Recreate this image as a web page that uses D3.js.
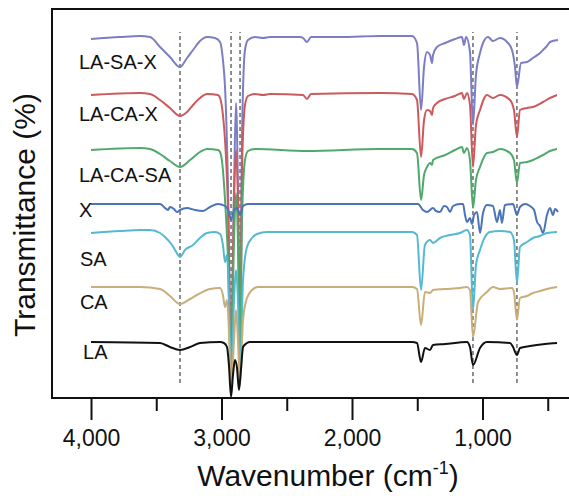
<!DOCTYPE html>
<html>
<head>
<meta charset="utf-8">
<script src="https://cdn.jsdelivr.net/npm/d3@7"></script>
<style>
  body { margin: 0; background: #fff; }
  svg { display: block; font-family: "Liberation Sans", Arial, Helvetica, sans-serif; }
</style>
</head>
<body>
<div id="chart"></div>
<script>
// spectra, [wavenumber, relative transmittance] (0 = own baseline)
const laSaX = [[4000,-2],[3778,0],[3625,1],[3548,0],[3471,-10],[3395,-20],[3318,-30],[3264,-21],[3218,-13],[3165,-4],[3111,0],[3050,-1],[3011,-5],[2989,-23],[2973,-50],[2950,-150],[2927,-323],[2904,-150],[2889,-66],[2874,-150],[2858,-313],[2843,-100],[2820,-13],[2797,-3],[2743,0],[2682,-1],[2628,0],[2398,0],[2375,-1],[2345,-5],[2314,0],[2092,0],[1785,1],[1540,1],[1502,-6],[1471,-73],[1448,-30],[1425,-15],[1402,-18],[1387,-26],[1379,-18],[1349,-10],[1287,-6],[1211,-2],[1157,0],[1142,-8],[1126,0],[1096,-15],[1073,-88],[1050,-38],[1019,-16],[996,-6],[958,0],[920,-4],[866,-1],[812,-5],[774,-13],[751,-30],[736,-50],[705,-26],[659,-25],[613,-21],[559,-16],[536,-13],[506,-9],[483,-5],[421,-3]]
const laCaX = [[4000,-1],[3625,1],[3548,0],[3471,-6],[3395,-14],[3318,-22],[3264,-18],[3218,-11],[3165,-4],[3111,0],[3027,-1],[3011,-4],[2989,-21],[2973,-46],[2950,-116],[2927,-266],[2904,-106],[2889,-56],[2874,-106],[2858,-256],[2843,-76],[2820,-11],[2797,-2],[2743,0],[2682,-1],[2628,0],[2375,-1],[2345,-5],[2314,0],[1785,1],[1540,0],[1502,-6],[1471,-63],[1448,-26],[1425,-16],[1402,-17],[1387,-21],[1379,-14],[1349,-9],[1287,-5],[1211,-2],[1157,1],[1142,-5],[1119,1],[1096,-11],[1073,-73],[1050,-31],[1019,-16],[966,-1],[920,-4],[866,-1],[789,-6],[759,-16],[736,-43],[713,-16],[659,-14],[613,-13],[536,-8],[483,-4],[429,-1]]
const laCaSa = [[4000,-1],[3625,1],[3548,0],[3471,-5],[3395,-12],[3318,-18],[3241,-11],[3165,-3],[3111,0],[3027,-1],[3011,-3],[2989,-21],[2973,-51],[2950,-111],[2927,-221],[2904,-91],[2889,-44],[2874,-91],[2858,-216],[2843,-71],[2820,-11],[2797,-2],[2743,0],[2345,-2],[1785,0],[1540,0],[1502,-4],[1471,-51],[1448,-26],[1425,-18],[1402,-14],[1387,-16],[1379,-11],[1287,-6],[1211,-1],[1157,2],[1142,-4],[1119,1],[1096,-11],[1073,-59],[1050,-31],[1019,-18],[966,-4],[920,-3],[866,0],[789,-4],[759,-11],[736,-34],[713,-14],[659,-13],[613,-11],[536,-6],[483,-2],[429,0]]
const xSpec = [[4000,0],[3471,0],[3456,-1],[3433,-4],[3410,-6],[3395,-3],[3364,-5],[3341,-8],[3318,-6],[3264,-4],[3203,-6],[3142,-7],[3088,-3],[3027,0],[2973,-2],[2943,-8],[2927,-16],[2904,-6],[2881,-4],[2858,-11],[2835,-2],[2797,0],[1517,0],[1494,0],[1456,-6],[1425,-8],[1379,-4],[1356,-7],[1326,-8],[1295,-2],[1272,-3],[1249,-8],[1226,-2],[1172,0],[1149,0],[1134,-11],[1119,-18],[1096,-14],[1080,-20],[1065,-11],[1042,-8],[1019,-29],[996,-9],[966,-1],[920,-2],[889,-18],[866,-6],[851,-19],[828,-1],[766,0],[736,-11],[713,-3],[674,0],[636,-2],[605,-6],[582,-18],[559,-22],[536,-29],[506,-11],[483,-4],[460,-11],[444,-5],[421,-8]]
const sa = [[4000,-1],[3778,1],[3625,2],[3548,2],[3471,-1],[3433,-5],[3379,-13],[3333,-23],[3318,-25],[3280,-18],[3218,-13],[3165,-6],[3111,-1],[3050,0],[3011,-2],[2989,-13],[2973,-30],[2958,-23],[2943,-68],[2927,-153],[2904,-68],[2889,-38],[2874,-68],[2858,-148],[2835,-48],[2805,-15],[2766,-6],[2728,-2],[2651,0],[1540,0],[1502,-3],[1471,-58],[1441,-13],[1402,-8],[1379,-11],[1326,-6],[1249,-3],[1172,-1],[1119,2],[1096,-3],[1073,-78],[1050,-33],[1019,-18],[981,-5],[943,0],[866,1],[789,0],[759,-8],[736,-51],[713,-15],[659,-10],[613,-6],[559,-4],[506,-1],[429,0]]
const ca = [[4000,0],[3625,0],[3471,-2],[3395,-9],[3318,-17],[3241,-12],[3188,-8],[3088,-2],[3011,-1],[2989,-8],[2973,-20],[2958,-13],[2943,-43],[2927,-103],[2904,-53],[2889,-23],[2874,-53],[2858,-98],[2835,-33],[2805,-11],[2766,-3],[2720,0],[1540,0],[1502,-2],[1471,-38],[1441,-5],[1402,-6],[1379,-3],[1287,-2],[1172,-1],[1119,0],[1096,-3],[1073,-50],[1034,-15],[966,-5],[920,0],[866,-2],[774,-1],[759,-5],[736,-33],[713,-11],[659,-9],[613,-6],[559,-4],[506,-2],[429,0]]
const la = [[4000,0],[3471,-1],[3395,-5],[3318,-8],[3241,-5],[3165,-1],[3011,0],[2981,-1],[2958,-5],[2943,-23],[2927,-55],[2912,-33],[2897,-18],[2881,-26],[2866,-48],[2851,-28],[2835,-5],[2805,-1],[2782,0],[1540,0],[1502,-1],[1471,-20],[1441,-6],[1402,-8],[1379,-3],[1287,-2],[1119,0],[1096,-5],[1073,-23],[1019,-6],[966,0],[789,-1],[766,-5],[736,-13],[713,-6],[636,-4],[521,-2],[429,-1]]

const names = ["LA-SA-X", "LA-CA-X", "LA-CA-SA", "X", "SA", "CA", "LA"]
const spectra = [laSaX, laCaX, laCaSa, xSpec, sa, ca, la]
const offsets = [361, 304, 249, 194, 166, 111, 56]
const labelLevels = [329, 277, 216, 181, 132, 89, 39]
const labelWn = [4092, 4092, 4092, 4092, 4085, 4085, 4061]
const colors = ["#7b7ec4", "#cc5a5c", "#4fa96c", "#4a73ba", "#54b9d1", "#c9ae7a", "#111111"]

const peakLines = [3318, 2927, 2858, 1073, 736]
const majorTicks = [4000, 3000, 2000, 1000]
const minorTicks = [3500, 2500, 1500, 500]

const W = 569, H = 496
const frameLeft = 52, frameTop = 9, frameBottom = 398

const svg = d3.select("#chart").append("svg")
    .attr("width", W)
    .attr("height", H)

const x = d3.scaleLinear().domain([4000, 0]).range([91, 613])
const y = d3.scaleLinear().domain([0, 389]).range([frameBottom, frameTop])

// peak markers
svg.append("g").selectAll("line")
  .data(peakLines)
  .enter().append("line")
    .attr("x1", d => x(d)).attr("x2", d => x(d))
    .attr("y1", y(15)).attr("y2", y(366))
    .attr("stroke", "#333")
    .attr("stroke-width", 1.1)
    .attr("stroke-dasharray", "4,3")

const line = d3.line()
    .curve(d3.curveMonotoneX)

svg.append("g").selectAll("path")
  .data(spectra)
  .enter().append("path")
    .attr("fill", "none")
    .attr("stroke", (d, i) => colors[i])
    .attr("stroke-width", 2)
    .attr("stroke-linejoin", "round")
    .attr("d", (d, i) => line(d.map(p => [x(p[0]), y(offsets[i] + p[1])])))

svg.append("g").selectAll("text")
  .data(names)
  .enter().append("text")
    .attr("x", (d, i) => x(labelWn[i]))
    .attr("y", (d, i) => y(labelLevels[i]))
    .attr("font-size", 20)
    .attr("fill", "#111")
    .text(d => d)

// frame
svg.append("path")
    .attr("d", "M" + W + "," + frameTop + "H" + frameLeft + "V" + frameBottom + "H" + W)
    .attr("fill", "none")
    .attr("stroke", "#111")
    .attr("stroke-width", 2)

const axisMajor = d3.axisBottom(x)
    .tickValues(majorTicks)
    .tickSize(22)
    .tickPadding(10)
    .tickFormat(d3.format(","))
const gx = svg.append("g")
    .attr("transform", "translate(0," + frameBottom + ")")
    .call(axisMajor)
gx.select(".domain").remove()
gx.selectAll(".tick line").attr("stroke", "#111").attr("stroke-width", 2)
gx.selectAll(".tick text")
    .attr("font-family", "Liberation Sans, Arial, sans-serif")
    .attr("font-size", 23)
    .attr("fill", "#111")

const gMinor = svg.append("g")
    .attr("transform", "translate(0," + frameBottom + ")")
    .call(d3.axisBottom(x).tickValues(minorTicks).tickSize(13).tickFormat(""))
gMinor.select(".domain").remove()
gMinor.selectAll(".tick line").attr("stroke", "#111").attr("stroke-width", 2)

const xTitle = svg.append("text")
    .attr("x", 328)
    .attr("y", 486)
    .attr("text-anchor", "middle")
    .attr("font-size", 30)
    .attr("fill", "#111")
xTitle.append("tspan").text("Wavenumber (cm")
xTitle.append("tspan").attr("font-size", 18).attr("dy", -12).text("-1")
xTitle.append("tspan").attr("dy", 12).text(")")

svg.append("text")
    .attr("transform", "translate(35,215) rotate(-90)")
    .attr("text-anchor", "middle")
    .attr("font-size", 30)
    .attr("fill", "#111")
    .text("Transmittance (%)")
</script>
</body>
</html>
